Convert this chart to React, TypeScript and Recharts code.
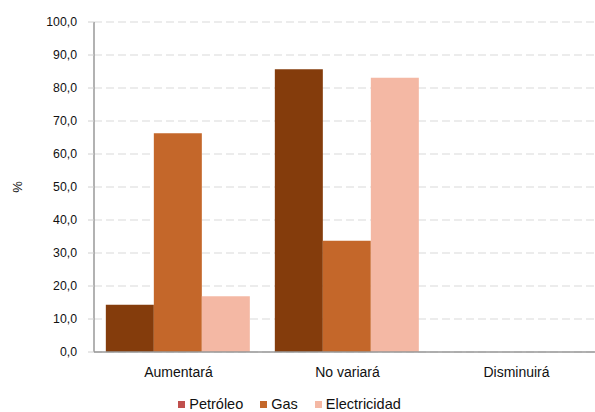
import { BarChart, Bar, XAxis, YAxis, CartesianGrid, Legend, Label } from "recharts";

const categories = ["Aumentará", "No variará", "Disminuirá"];
const petroleo = [14.3, 85.7, 0];
const gas = [66.3, 33.7, 0];
const electricidad = [16.9, 83.1, 0];
const yTicks = [0, 10, 20, 30, 40, 50, 60, 70, 80, 90, 100];

const data = categories.map((name, i) => ({
  name,
  petroleo: petroleo[i],
  gas: gas[i],
  electricidad: electricidad[i],
}));

const legendItems = [
  { label: "Petróleo", color: "#c0504d" },
  { label: "Gas", color: "#c4672a" },
  { label: "Electricidad", color: "#f4b8a4" },
];

const FONT = "'Liberation Sans', Arial, Helvetica, sans-serif";

function LegendContent() {
  return (
    <div
      style={{
        display: "flex",
        justifyContent: "center",
        alignItems: "flex-end",
        height: 30,
        paddingRight: 22,
        fontFamily: FONT,
        fontSize: 14.5,
        color: "#111",
      }}
    >
      {legendItems.map((it, i) => (
        <div
          key={it.label}
          style={{
            display: "flex",
            alignItems: "center",
            marginRight: i < legendItems.length - 1 ? 17 : 0,
            height: 16,
          }}
        >
          <span style={{ width: 7, height: 7, background: it.color, display: "inline-block", marginRight: 4 }} />
          <span>{it.label}</span>
        </div>
      ))}
    </div>
  );
}

function PercentLabel(props: any) {
  const vb = props.viewBox || { x: 0, y: 0, width: 0, height: 0 };
  const cx = vb.x + 17;
  const cy = vb.y + vb.height / 2;
  return (
    <text
      x={cx}
      y={cy}
      transform={`rotate(-90, ${cx}, ${cy})`}
      textAnchor="middle"
      dominantBaseline="central"
      fill="#111"
      fontSize={13}
    >
      %
    </text>
  );
}

export default function App() {
  return (
    <div style={{ position: "absolute", left: 0, top: 0, width: 595, height: 412, overflow: "hidden", background: "#fff" }}>
      <BarChart
        width={601}
        height={412}
        data={data}
        margin={{ top: 22, right: 0, left: 0, bottom: 0 }}
        barCategoryGap="7%"
        barGap={0}
        style={{ fontFamily: FONT }}
      >
        <CartesianGrid vertical={false} stroke="#d9d9d9" strokeDasharray="8 4" />
        <XAxis
          dataKey="name"
          height={30}
          tickLine={false}
          tickSize={6}
          tickMargin={9}
          axisLine={{ stroke: "#999", strokeWidth: 1.5 }}
          tick={{ fill: "#111", fontSize: 14 }}
          interval={0}
        />
        <YAxis
          width={94}
          domain={[0, 100]}
          ticks={yTicks}
          tickSize={6}
          tickMargin={11}
          tickLine={{ stroke: "#d0d0d0" }}
          axisLine={{ stroke: "#999", strokeWidth: 1.5 }}
          tick={{ fill: "#111", fontSize: 12.3 }}
          tickFormatter={(v: number) => v.toFixed(1).replace(".", ",")}
        >
          <Label content={<PercentLabel />} />
        </YAxis>
        <Legend verticalAlign="bottom" height={30} content={() => <LegendContent />} />
        <Bar dataKey="petroleo" name="Petróleo" fill="#843c0c" isAnimationActive={false} />
        <Bar dataKey="gas" name="Gas" fill="#c4672a" isAnimationActive={false} />
        <Bar dataKey="electricidad" name="Electricidad" fill="#f4b8a4" isAnimationActive={false} />
      </BarChart>
    </div>
  );
}
